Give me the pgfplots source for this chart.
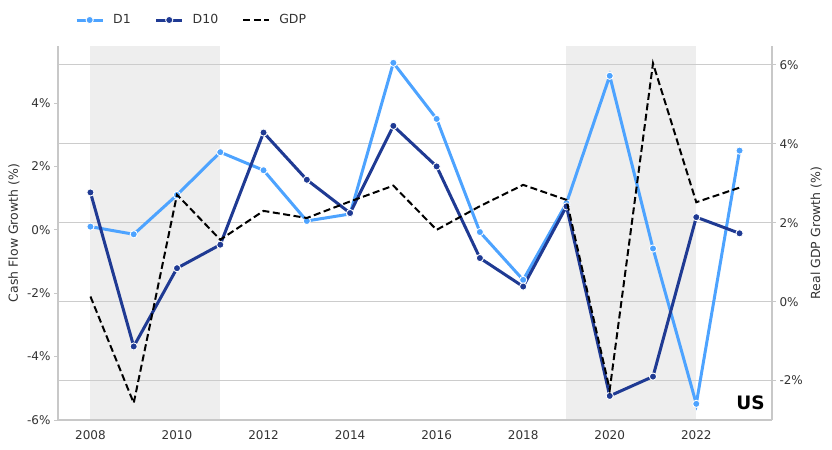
\documentclass[border=0pt]{standalone}
\usepackage{fontspec}
\setmainfont{DejaVu Sans}
\usepackage{pgfplots}
\pgfplotsset{compat=1.18}
\definecolor{done}{HTML}{4DA3FF}
\definecolor{dten}{HTML}{1F3A93}
\definecolor{shade}{HTML}{EEEEEE}
\definecolor{spine}{HTML}{C8C8C8}
\definecolor{gridA}{HTML}{EBEBEB}
\definecolor{gridB}{HTML}{CCCCCC}
\definecolor{txt}{HTML}{333333}

\pgfplotstableread{
year d1 d10 gdp
2008 0.10 1.18 0.13
2009 -0.14 -3.68 -2.57
2010 1.10 -1.21 2.71
2011 2.45 -0.47 1.57
2012 1.88 3.07 2.30
2013 0.28 1.58 2.12
2014 0.50 0.53 2.54
2015 5.27 3.28 2.94
2016 3.50 2.00 1.82
2017 -0.07 -0.89 2.42
2018 -1.58 -1.79 2.96
2019 0.84 0.74 2.58
2020 4.86 -5.24 -2.23
2021 -0.59 -4.63 6.04
2022 -5.49 0.40 2.52
2023 2.50 -0.11 2.89
}\data

\begin{document}
\begin{tikzpicture}[font=\fontsize{12bp}{14bp}\selectfont]
\pgfplotsset{
  base/.style={
    width=714bp, height=374bp, scale only axis,
    xmin=2007.25, xmax=2023.75,
    /pgf/number format/assume math mode=true,
    tick label style={font=\fontsize{12bp}{14bp}\selectfont, text=txt},
    label style={font=\fontsize{12.5bp}{14bp}\selectfont, text=txt},
    axis line style={spine, line width=1.1bp},
    major tick length=4bp,
    tick style={spine, line width=1bp},
  },
  leftscale/.style={ymin=-6, ymax=5.8},
  rightscale/.style={ymin=-3, ymax=6.48},
}
% Layer 1: shading + left grid + vertical grid
\begin{axis}[base, leftscale, set layers,
  axis x line=none, axis y line=none,
  xtick={2008,2010,...,2022}, ytick={-6,-4,...,4},
  xmajorgrids, ymajorgrids,
  major grid style={gridA, line width=1bp}]
  \addplot[on layer=axis background, fill=shade, draw=none] coordinates {(2008,-6) (2008,5.8) (2011,5.8) (2011,-6)} -- cycle;
  \addplot[on layer=axis background, fill=shade, draw=none] coordinates {(2019,-6) (2019,5.8) (2022,5.8) (2022,-6)} -- cycle;
\end{axis}
% Layer 2: right grid + right axis
\begin{axis}[base, rightscale,
  axis x line=none, axis y line*=right,
  ytick={-2,0,...,6}, tick align=outside,
  yticklabel={\pgfmathprintnumber{\tick}\%},
  ymajorgrids, major grid style={gridB, line width=1bp},
  ylabel={Real GDP Growth (\%)},
  ylabel style={at={(axis description cs:1.062,0.5)}, anchor=center}]
  \addplot[draw=none] coordinates {(2008,0)};
\end{axis}
% Layer 3: left axis with D1, D10 + legend
\begin{axis}[base, leftscale, name=ax,
  axis x line*=bottom, axis y line*=left,
  xtick={2008,2010,...,2022}, ytick={-6,-4,...,4},
  x tick label style={/pgf/number format/1000 sep={}, yshift=-3bp},
  xtick style={draw=none}, tick align=outside,
  yticklabel={\pgfmathprintnumber{\tick}\%},
  ylabel={Cash Flow Growth (\%)},
  ylabel style={at={(axis description cs:-0.0616,0.5)}, anchor=center},
  legend columns=3,
  legend style={at={(axis description cs:0,1)}, anchor=west, xshift=14bp, yshift=26bp,
    draw=none, fill=none, font=\fontsize{12.5bp}{14bp}\selectfont, text=txt,
    /tikz/every odd column/.append style={column sep=7bp},
    /tikz/every even column/.append style={column sep=22bp}},
  legend image code/.code={\draw[mark repeat=2,mark phase=2,#1] plot coordinates {(0bp,0bp)(13bp,0bp)(26bp,0bp)};},
  ]
  \addplot[done, line width=3bp, mark=*, mark size=3.6bp, mark options={fill=done, draw=white, line width=0.9bp, solid}] table[x=year, y=d1] {\data};
  \addlegendentry{D1}
  \addplot[dten, line width=3bp, mark=*, mark size=3.6bp, mark options={fill=dten, draw=white, line width=0.9bp, solid}] table[x=year, y=d10] {\data};
  \addlegendentry{D10}
  \addlegendimage{black, line width=2bp, dash pattern=on 7bp off 3.5bp}
  \addlegendentry{GDP}
  \node[anchor=south east, inner sep=0pt, font=\fontsize{18.5bp}{20bp}\selectfont\bfseries] at (rel axis cs:0.99,0.027) {US};
\end{axis}
% Layer 4: GDP on right scale
\begin{axis}[base, rightscale, axis x line=none, axis y line=none]
  \addplot[black, line width=2bp, dash pattern=on 7bp off 3.5bp] table[x=year, y=gdp] {\data};
\end{axis}
\pgfresetboundingbox
\path[use as bounding box] ([shift={(-58bp,-30bp)}]ax.south west) rectangle +(832bp,450bp);
\end{tikzpicture}
\end{document}
